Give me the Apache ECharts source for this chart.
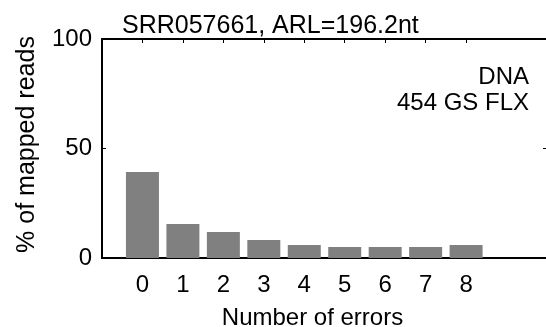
<!DOCTYPE html>
<html>
<head>
<meta charset="utf-8">
<script src="https://cdn.jsdelivr.net/npm/echarts@6/dist/echarts.min.js"></script>
<style>html,body{margin:0;padding:0;background:#fff}#c{width:546px;height:327px}</style>
</head>
<body>
<div id="c"></div>
<script>
const errors = [0, 1, 2, 3, 4, 5, 6, 7, 8];
const pctReads = [39.3, 15.5, 11.9, 8.2, 5.9, 5.0, 5.0, 5.0, 5.9];
const yTicks = [0, 50, 100];
const titleText = 'SRR057661, ARL=196.2nt';
const noteLines = ['DNA', '454 GS FLX'];

const FONT = "'Liberation Sans', Arial, sans-serif";
const chart = echarts.init(document.getElementById('c'), null, {renderer: 'canvas'});
const axisLine = {show: true, onZero: false, lineStyle: {color: '#000', width: 2}};
const tickStyle = {show: true, inside: true, length: 4, lineStyle: {color: '#000', width: 1}};
chart.setOption({
  animation: false,
  backgroundColor: '#fff',
  title: {text: titleText, left: 117, top: 9, textStyle: {fontFamily: FONT, fontSize: 25, fontWeight: 'normal', color: '#000'}},
  grid: {left: 102, right: -1, top: 39, bottom: 69, containLabel: false, outerBoundsMode: 'none'},
  xAxis: [{
    type: 'value', min: -1, max: 10, interval: 1, position: 'bottom',
    axisLine: axisLine, splitLine: {show: false},
    axisTick: Object.assign({customValues: errors}, tickStyle),
    axisLabel: {customValues: errors, fontFamily: FONT, fontSize: 24, color: '#000', margin: 15},
    name: 'Number of errors', nameLocation: 'middle', nameGap: 48,
    nameTextStyle: {fontFamily: FONT, fontSize: 24, color: '#000', padding: [0, 24, 0, 0]}
  }, {
    type: 'value', min: -1, max: 10, interval: 1, position: 'top',
    axisLine: axisLine, splitLine: {show: false},
    axisTick: Object.assign({customValues: errors}, tickStyle),
    axisLabel: {show: false}
  }],
  yAxis: [{
    type: 'value', min: 0, max: 100, interval: 50, position: 'left',
    axisLine: axisLine, splitLine: {show: false},
    axisTick: Object.assign({customValues: yTicks}, tickStyle),
    axisLabel: {customValues: yTicks, fontFamily: FONT, fontSize: 24, color: '#000', margin: 10},
    name: '% of mapped reads', nameLocation: 'middle', nameGap: 62, nameRotate: 90,
    nameTextStyle: {fontFamily: FONT, fontSize: 25, color: '#000', padding: [0, 0, 0, 8]}
  }, {
    type: 'value', min: 0, max: 100, interval: 50, position: 'right',
    axisLine: axisLine, splitLine: {show: false},
    axisTick: Object.assign({customValues: yTicks}, tickStyle),
    axisLabel: {show: false}
  }],
  series: [{
    type: 'bar', xAxisIndex: 0, yAxisIndex: 0, barWidth: 33,
    itemStyle: {color: '#808080'},
    data: errors.map((e, i) => [e, pctReads[i]])
  }],
  graphic: noteLines.map((t, i) => ({
    type: 'text', right: 17, top: 65 + i * 26,
    style: {text: t, fontFamily: FONT, fontSize: 24, fill: '#000'}
  }))
});
</script>
</body>
</html>
